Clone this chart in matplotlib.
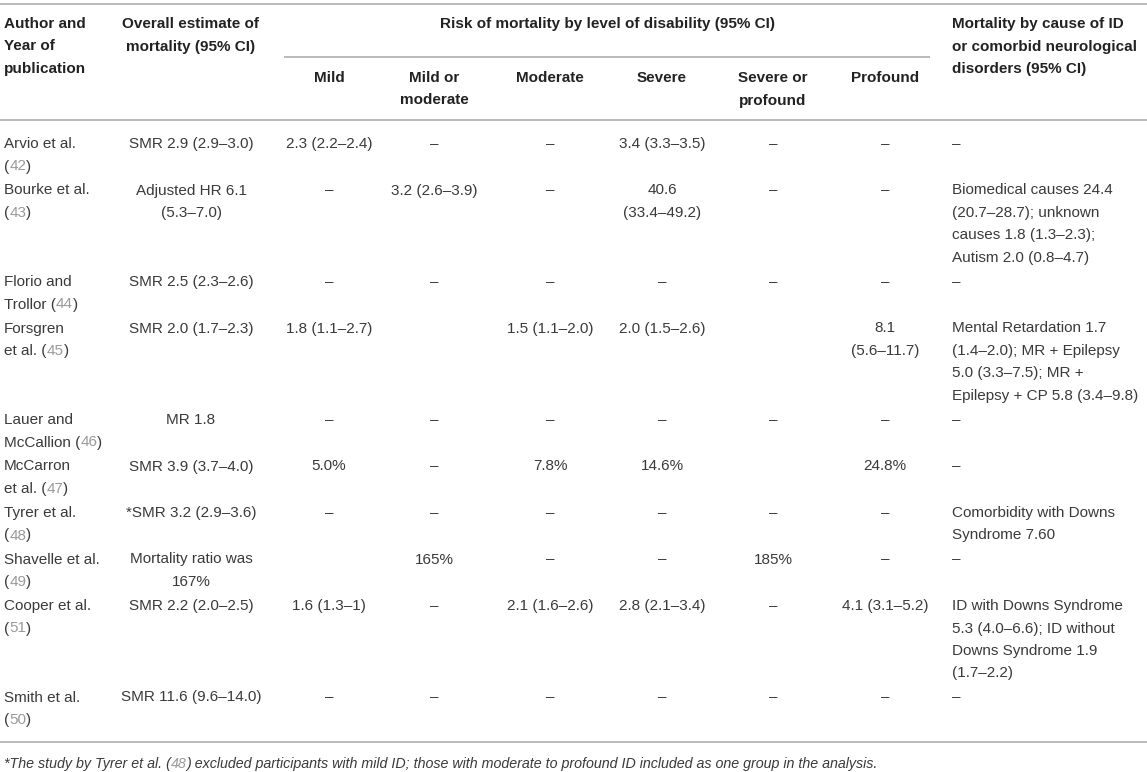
import matplotlib.pyplot as plt

# table content; a trailing "\n" puts the reference number on its own line
authors = ["Arvio et al.\n", "Bourke et al.\n", "Florio and\nTrollor", "Forsgren\net al.",
           "Lauer and\nMcCallion", "McCarron\net al.", "Tyrer et al.\n", "Shavelle et al.\n",
           "Cooper et al.\n", "Smith et al.\n"]
refs = ["42", "43", "44", "45", "46", "47", "48", "49", "51", "50"]
overall = ["SMR 2.9 (2.9–3.0)", "Adjusted HR 6.1\n(5.3–7.0)", "SMR 2.5 (2.3–2.6)",
           "SMR 2.0 (1.7–2.3)", "MR 1.8", "SMR 3.9 (3.7–4.0)", "*SMR 3.2 (2.9–3.6)",
           "Mortality ratio was\n167%", "SMR 2.2 (2.0–2.5)", "SMR 11.6 (9.6–14.0)"]
mild = ["2.3 (2.2–2.4)", "–", "–", "1.8 (1.1–2.7)", "–", "5.0%", "–", "", "1.6 (1.3–1)", "–"]
mild_mod = ["–", "3.2 (2.6–3.9)", "–", "", "–", "–", "–", "165%", "–", "–"]
moderate = ["–", "–", "–", "1.5 (1.1–2.0)", "–", "7.8%", "–", "–", "2.1 (1.6–2.6)", "–"]
severe = ["3.4 (3.3–3.5)", "40.6\n(33.4–49.2)", "–", "2.0 (1.5–2.6)", "–", "14.6%", "–", "–",
          "2.8 (2.1–3.4)", "–"]
sev_prof = ["–", "–", "–", "", "–", "", "–", "185%", "–", "–"]
profound = ["–", "–", "–", "8.1\n(5.6–11.7)", "–", "24.8%", "–", "–", "4.1 (3.1–5.2)", "–"]
cause = ["–",
         "Biomedical causes 24.4\n(20.7–28.7); unknown\ncauses 1.8 (1.3–2.3);\nAutism 2.0 (0.8–4.7)",
         "–",
         "Mental Retardation 1.7\n(1.4–2.0); MR + Epilepsy\n5.0 (3.3–7.5); MR +\nEpilepsy + CP 5.8 (3.4–9.8)",
         "–", "–",
         "Comorbidity with Downs\nSyndrome 7.60",
         "–",
         "ID with Downs Syndrome\n5.3 (4.0–6.6); ID without\nDowns Syndrome 1.9\n(1.7–2.2)",
         "–"]

col_heads = ["Mild", "Mild or\nmoderate", "Moderate", "Severe", "Severe or\nprofound", "Profound"]
spanner = "Risk of mortality by level of disability (95% CI)"
head_author = "Author and\nYear of\npublication"
head_overall = "Overall estimate of\nmortality (95% CI)"
head_cause = "Mortality by cause of ID\nor comorbid neurological\ndisorders (95% CI)"
footnote = ("*The study by Tyrer et al. (", "48",
            ") excluded participants with mild ID; those with moderate to profound ID "
            "included as one group in the analysis.")

W, H = 1147, 772
FONT = "Liberation Sans"
TXT = "#3a3a3a"
HEAD = "#222222"
REF = "#9a9a9a"
RULE = "#b4b4b4"
LINE = 22.5
FS = 11

fig = plt.figure(figsize=(W / 100, H / 100), dpi=100)
ax = fig.add_axes([0, 0, 1, 1])
ax.set_xlim(0, W)
ax.set_ylim(H, 0)
ax.axis("off")
renderer = fig.canvas.get_renderer()


def width(s, **kw):
    t = ax.text(0, 0, s, fontfamily=FONT, **kw)
    w = t.get_window_extent(renderer).width
    t.remove()
    return w


def runs(x, y, parts, **kw):
    """Draw (text, colour) pieces one after another on one baseline."""
    full = "".join(p for p, _ in parts)
    wfull = width(full, **kw)
    rest = full
    for text, color in parts:
        off = wfull - width(rest, **kw)
        ax.text(x + off, y, text, ha="left", va="baseline", fontfamily=FONT,
                color=color, **kw)
        rest = rest[len(text):]


def cell(x, y, s, ha="center", bold=False, color=TXT):
    for i, line in enumerate(s.split("\n")):
        ax.text(x, y + i * LINE + 5, line, ha=ha, va="baseline", fontsize=FS,
                fontfamily=FONT, fontweight="bold" if bold else "normal", color=color)


centers = [329, 434, 550, 662, 773, 885]
x_overall = 191
x_author = 4
x_cause = 952

# rules
ax.axhline(4, color=RULE, lw=1.3)
ax.axhline(120, color=RULE, lw=1.3)
ax.hlines(57, 284, 930, color=RULE, lw=1.3)
ax.axhline(742, color=RULE, lw=1.3)

# header
cell(x_author, 23, head_author, ha="left", bold=True, color=HEAD)
cell(x_overall, 23, head_overall, bold=True, color=HEAD)
cell(607, 23, spanner, bold=True, color=HEAD)
cell(x_cause, 23, head_cause, ha="left", bold=True, color=HEAD)
for cx, h in zip(centers, col_heads):
    cell(cx, 77, h, bold=True, color=HEAD)

# body
y = 143
for r in range(len(authors)):
    lines = authors[r].split("\n")
    for i, line in enumerate(lines[:-1]):
        cell(x_author, y + i * LINE, line, ha="left")
    last = lines[-1]
    yl = y + (len(lines) - 1) * LINE + 5
    pre = (last + " (") if last else "("
    runs(x_author, yl, [(pre, TXT), (refs[r], REF), (")", TXT)], fontsize=FS)

    cell(x_overall, y, overall[r])
    for cx, col in zip(centers, [mild, mild_mod, moderate, severe, sev_prof, profound]):
        cell(cx, y, col[r])
    cell(x_cause, y, cause[r], ha="left")

    n = max(s.count("\n") + 1 for s in [authors[r], overall[r], mild[r], mild_mod[r],
                                         moderate[r], severe[r], sev_prof[r],
                                         profound[r], cause[r]])
    y += n * LINE + 1.5

# footnote with grey reference
runs(x_author, 768, [(footnote[0], TXT), (footnote[1], REF), (footnote[2], TXT)],
     fontsize=10.25, fontstyle="italic")

fig.savefig("out.png", dpi=100)
